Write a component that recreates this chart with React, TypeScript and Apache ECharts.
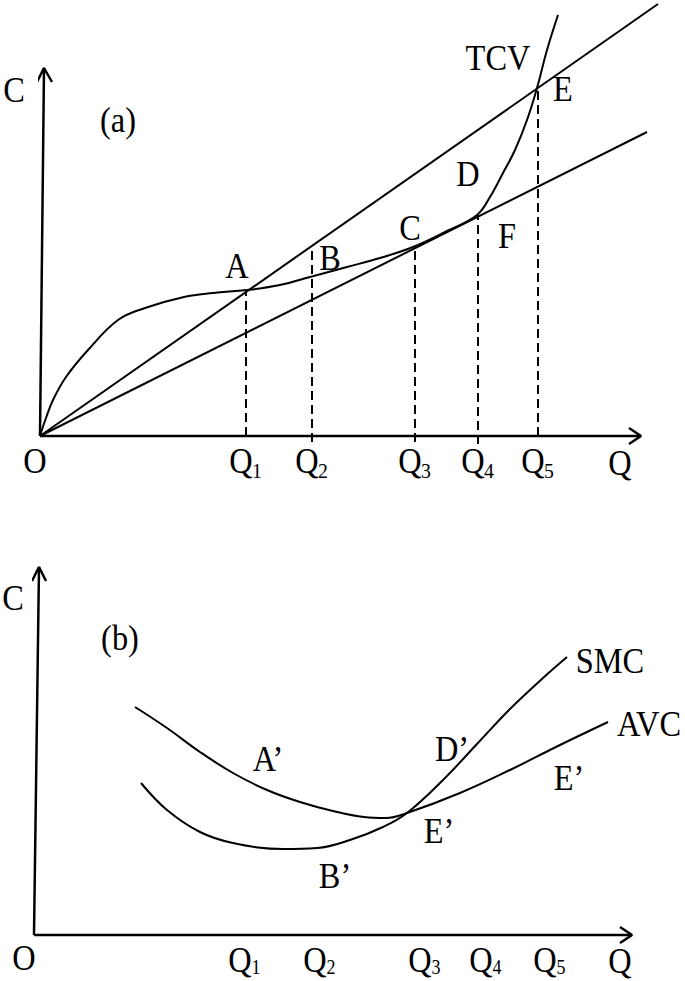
import React, { useEffect, useRef } from "react";
import * as echarts from "echarts";

// ---------- Panel (a): total variable cost ----------
const tcvCurve: number[][] = [
  [0, 0], [6, 18], [13, 36], [26, 59], [48, 86], [78, 116], [105, 128], [144, 139],
  [173, 143], [207, 146], [240, 151], [270, 159], [307, 169], [340, 178], [373, 189],
  [407, 205], [437, 221], [450, 239], [463, 263], [475, 286], [487, 316], [497, 348],
  [507, 386], [518, 421],
];
const upperRay: number[][] = [[0, 0], [618, 432]];
const lowerRay: number[][] = [[0, 0], [607, 304]];
const qPosA = [206, 272, 375, 438, 498];
const dashTop = [146, 190, 187, 221, 348];
const dashBottom = [0, -6, -6, -8, 0];

// ---------- Panel (b): AVC and SMC ----------
const avcCurve: number[][] = [
  [101, 228], [133, 207], [166, 183], [199, 162], [233, 145], [266, 133], [299, 124],
  [330, 118], [352, 117], [373, 122], [426, 142], [476, 165], [526, 190], [574, 213],
];
const smcCurve: number[][] = [
  [107, 152], [133, 125], [166, 103], [199, 92], [249, 86], [283, 87], [316, 95],
  [349, 108], [373, 122], [409, 155], [443, 191], [476, 226], [509, 257], [533, 278],
];
const qPosB = [211, 286, 391, 452, 516];

const subs = ["1", "2", "3", "4", "5"];

// axis lines (data units)
const axisA = {
  y: [[0, 0], [4, 368]],
  x: [[0, 0], [601, 0]],
  yArrow: [[-3, 354], [4, 368], [12, 354]],
  xArrow: [[589, 8], [601, 0], [589, -8]],
};
const axisB = {
  y: [[0, 0], [5, 368]],
  x: [[0, 0], [598, 0]],
  yArrow: [[-2, 354], [5, 368], [12, 354]],
  xArrow: [[586, 8], [598, 0], [586, -8]],
};

// text annotations: [text, x, y] in data units of each panel
const textA: [string, number, number][] = [
  ["C", -26, 347], ["(a)", 78, 317], ["TCV", 458, 379], ["E", 523, 348],
  ["A", 197, 171], ["B", 290, 179], ["C", 370, 209], ["D", 428, 263], ["F", 467, 201],
  ["O", -5, -24], ["Q", 580, -26],
];
const textB: [string, number, number][] = [
  ["C", -21, 338], ["(b)", 86, 298], ["O", -10, -22], ["Q", 586, -25],
  ["A\u2019", 234, 177], ["B\u2019", 301, 60], ["D\u2019", 418, 187],
  ["E\u2019", 535, 158], ["E\u2019", 405, 105], ["SMC", 576, 275], ["AVC", 615, 212],
];

const FONT = "'Liberation Serif', 'Times New Roman', serif";
const FS = 36;
const SX = 0.9;

export default function App() {
  const ref = useRef<HTMLDivElement>(null);
  useEffect(() => {
    if (!ref.current) return;
    const chart = echarts.init(ref.current, undefined, { renderer: "svg" });

    const line = (data: number[][], g: number, width = 2, dashed = false) => ({
      type: "line",
      xAxisIndex: g,
      yAxisIndex: g,
      data,
      smooth: false,
      showSymbol: false,
      symbol: "none",
      clip: false,
      silent: true,
      lineStyle: { color: "#000", width, type: dashed ? [9, 5] : "solid" },
    });
    const curve = (data: number[][], g: number) => ({
      ...line(data, g, 2),
      smooth: 0.4,
    });

    const series: any[] = [
      line(axisA.y, 0, 2.5), line(axisA.x, 0, 2.5), line(axisA.yArrow, 0, 2.5), line(axisA.xArrow, 0, 2.5),
      line(upperRay, 0), line(lowerRay, 0), curve(tcvCurve, 0),
      ...qPosA.map((q, i) => line([[q, dashBottom[i]], [q, dashTop[i]]], 0, 2, true)),
      line(axisB.y, 1, 2.5), line(axisB.x, 1, 2.5), line(axisB.yArrow, 1, 2.5), line(axisB.xArrow, 1, 2.5),
      curve(avcCurve, 1), curve(smcCurve, 1),
    ];

    chart.setOption({
      animation: false,
      backgroundColor: "#fff",
      grid: [
        { left: 40, top: 0, width: 645, height: 436 },
        { left: 34, top: 540, width: 651, height: 395 },
      ],
      xAxis: [
        { type: "value", gridIndex: 0, min: 0, max: 645, show: false },
        { type: "value", gridIndex: 1, min: 0, max: 651, show: false },
      ],
      yAxis: [
        { type: "value", gridIndex: 0, min: 0, max: 436, show: false },
        { type: "value", gridIndex: 1, min: 0, max: 395, show: false },
      ],
      series,
    });

    const txt = (t: string, p: number[], fs = FS) => ({
      type: "text",
      x: p[0],
      y: p[1],
      scaleX: SX,
      silent: true,
      style: {
        text: t,
        fontSize: fs,
        fontFamily: FONT,
        fill: "#000",
        textAlign: "center",
        textVerticalAlign: "middle",
        align: "center",
        verticalAlign: "middle",
      },
    });
    const px = (g: number, v: number[]) => chart.convertToPixel({ gridIndex: g } as any, v) as number[];

    const elements: any[] = [];
    textA.forEach(([t, x, y]) => elements.push(txt(t, px(0, [x, y]))));
    textB.forEach(([t, x, y]) => elements.push(txt(t, px(1, [x, y]))));
    qPosA.forEach((q, i) => {
      const p = px(0, [q, -24]);
      elements.push(txt("Q", [p[0] - 5, p[1]]));
      elements.push(txt(subs[i], [p[0] + 11, p[1] + 11], 22));
    });
    qPosB.forEach((q, i) => {
      const p = px(1, [q, -24]);
      elements.push(txt("Q", [p[0] - 5, p[1]]));
      elements.push(txt(subs[i], [p[0] + 11, p[1] + 8], 20));
    });
    chart.setOption({ graphic: { elements } });

    return () => chart.dispose();
  }, []);
  return (
    <div
      ref={ref}
      style={{ position: "fixed", left: 0, top: 0, width: 685, height: 981, background: "#fff" }}
    />
  );
}
